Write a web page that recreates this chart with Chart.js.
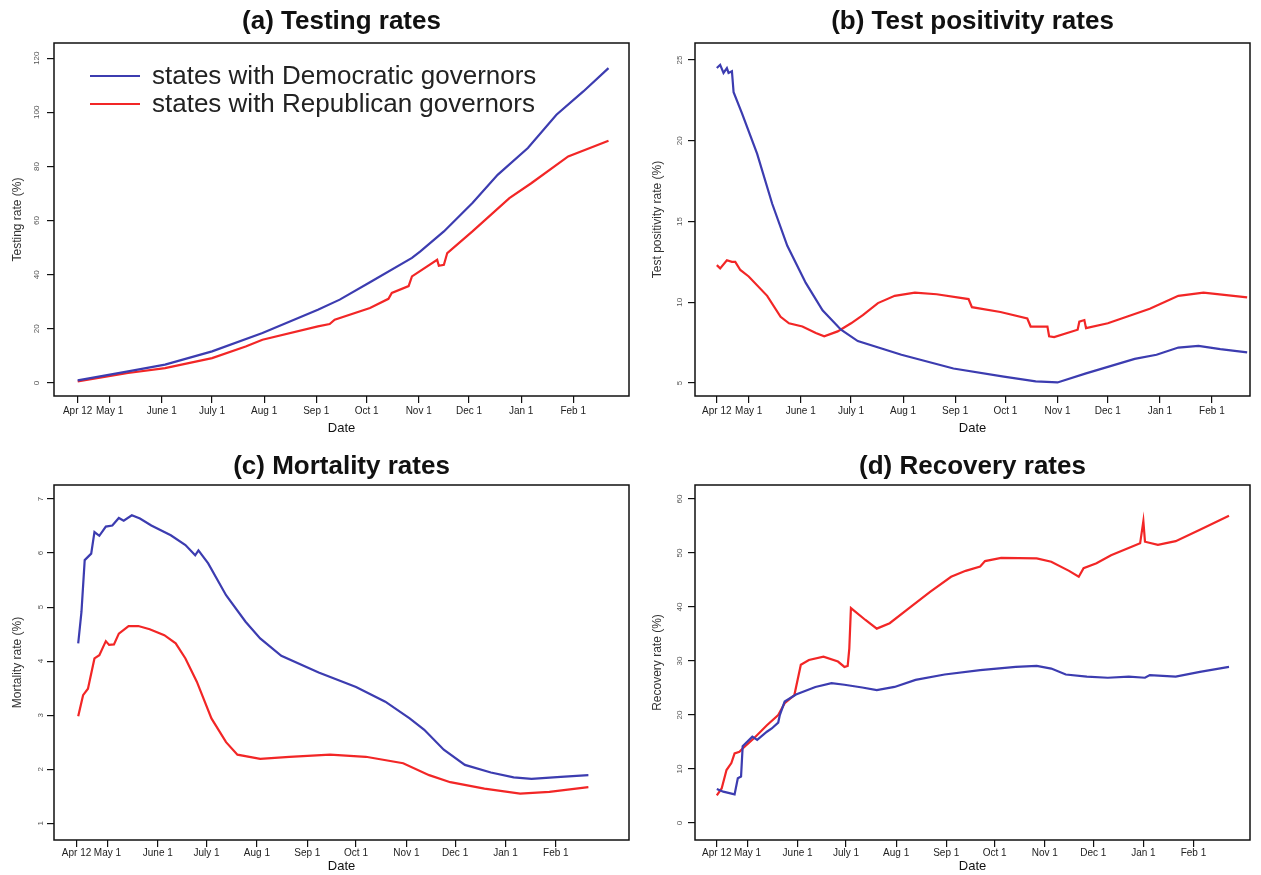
<!DOCTYPE html>
<html>
<head>
<meta charset="utf-8">
<title>Testing, positivity, mortality and recovery rates</title>
<script src="https://cdn.jsdelivr.net/npm/chart.js@4.4.1/dist/chart.umd.min.js"></script>
<style>
  html, body { margin: 0; padding: 0; background: #fff; }
  #wrap { position: relative; width: 1261px; height: 875px; overflow: hidden; }
  #wrap canvas { position: absolute; }
</style>
</head>
<body>
<div id="wrap">
  <canvas id="chartA" width="640" height="440" style="left:0;top:0"></canvas>
  <canvas id="chartB" width="621" height="440" style="left:640px;top:0"></canvas>
  <canvas id="chartC" width="640" height="435" style="left:0;top:440px"></canvas>
  <canvas id="chartD" width="621" height="435" style="left:640px;top:440px"></canvas>
</div>
<script>
// 日期刻度（自4月12日起的天数）
const dateTickDays = [0, 19, 50, 80, 111, 142, 172, 203, 233, 264, 295];
const dateTickLabels = ['Apr 12', 'May 1', 'June 1', 'July 1', 'Aug 1', 'Sep 1', 'Oct 1', 'Nov 1', 'Dec 1', 'Jan 1', 'Feb 1'];
const seriesLabels = ['states with Democratic governors', 'states with Republican governors'];

// (a) 检测率
const testingTicks = [0, 20, 40, 60, 80, 100, 120];
const testingDemDays = [0, 30, 52, 80, 110, 143, 156, 174, 199, 204, 218, 235, 250, 268, 285, 301, 316];
const testingDemVals = [1.0, 4.3, 6.8, 11.7, 18.5, 27.1, 30.8, 37.2, 46.2, 48.6, 56.0, 66.5, 76.9, 86.8, 99.1, 107.7, 116.3];
const testingRepDays = [0, 30, 52, 80, 100, 110, 143, 150, 153, 174, 185, 187, 197, 199, 214, 215, 218, 220, 235, 257, 270, 292, 316];
const testingRepVals = [0.6, 3.7, 5.5, 9.2, 13.5, 16.0, 20.9, 21.8, 23.4, 27.7, 31.1, 33.3, 35.8, 39.4, 45.5, 43.3, 43.7, 48.0, 56.0, 68.3, 73.8, 83.7, 89.5];

// (b) 阳性率
const positivityTicks = [5, 10, 15, 20, 25];
const positivityDemDays = [0, 2, 4, 6, 7, 9, 10, 15, 24, 33, 42, 53, 63, 74, 84, 110, 141, 171, 190, 203, 220, 249, 262, 275, 287, 300, 316];
const positivityDemVals = [24.5, 24.7, 24.2, 24.5, 24.2, 24.3, 23.0, 21.7, 19.2, 16.1, 13.5, 11.2, 9.5, 8.3, 7.6, 6.75, 5.9, 5.4, 5.1, 5.04, 5.6, 6.5, 6.75, 7.2, 7.3, 7.1, 6.9];
const positivityRepDays = [0, 2, 6, 9, 11, 14, 19, 30, 38, 43, 51, 59, 64, 72, 80, 87, 96, 106, 118, 131, 150, 152, 169, 185, 187, 197, 198, 201, 215, 216, 219, 220, 233, 258, 275, 290, 316];
const positivityRepVals = [12.3, 12.1, 12.6, 12.5, 12.5, 12.0, 11.6, 10.4, 9.1, 8.7, 8.5, 8.1, 7.9, 8.2, 8.7, 9.2, 9.95, 10.4, 10.6, 10.5, 10.2, 9.7, 9.4, 9.0, 8.5, 8.5, 7.9, 7.85, 8.3, 8.8, 8.9, 8.4, 8.7, 9.6, 10.4, 10.6, 10.3];

// (c) 死亡率
const mortalityTicks = [1, 2, 3, 4, 5, 6, 7];
const mortalityDemDays = [1, 3, 5, 9, 11, 14, 18, 22, 26, 29, 34, 39, 46, 58, 67, 73, 75, 81, 92, 104, 113, 126, 149, 172, 190, 205, 214, 226, 239, 255, 269, 280, 298, 315];
const mortalityDemVals = [4.33, 4.91, 5.87, 5.99, 6.39, 6.32, 6.49, 6.51, 6.65, 6.6, 6.70, 6.64, 6.51, 6.33, 6.15, 5.96, 6.05, 5.81, 5.22, 4.73, 4.42, 4.10, 3.79, 3.52, 3.25, 2.94, 2.73, 2.36, 2.08, 1.94, 1.85, 1.82, 1.86, 1.89];
const mortalityRepDays = [1, 4, 7, 11, 14, 18, 20, 23, 26, 32, 38, 45, 54, 61, 67, 74, 83, 92, 99, 113, 131, 156, 178, 201, 217, 230, 251, 273, 291, 315];
const mortalityRepVals = [2.98, 3.37, 3.49, 4.05, 4.11, 4.37, 4.30, 4.31, 4.51, 4.65, 4.65, 4.59, 4.48, 4.33, 4.05, 3.62, 2.94, 2.50, 2.27, 2.19, 2.23, 2.27, 2.23, 2.11, 1.89, 1.76, 1.64, 1.55, 1.58, 1.67];

// (d) 康复率
const recoveryTicks = [0, 10, 20, 30, 40, 50, 60];
const recoveryDemDays = [0, 4, 11, 13, 15, 16, 22, 25, 31, 34, 38, 39, 42, 49, 61, 71, 79, 90, 99, 110, 123, 141, 163, 185, 198, 207, 216, 229, 242, 255, 265, 268, 284, 299, 317];
const recoveryDemVals = [6.3, 5.8, 5.3, 8.3, 8.6, 14.2, 16.0, 15.4, 16.9, 17.5, 18.6, 20.0, 22.5, 23.8, 25.2, 25.9, 25.6, 25.1, 24.6, 25.2, 26.5, 27.5, 28.3, 28.9, 29.1, 28.6, 27.5, 27.1, 26.9, 27.1, 26.9, 27.4, 27.1, 28.0, 28.9];
const recoveryRepDays = [0, 3, 6, 9, 11, 14, 16, 23, 31, 38, 42, 48, 52, 57, 66, 75, 79, 81, 82, 83, 92, 99, 107, 119, 132, 145, 154, 163, 166, 176, 198, 207, 218, 224, 227, 235, 244, 262, 264, 265, 273, 284, 299, 317];
const recoveryRepVals = [5.1, 6.4, 9.8, 11.1, 12.9, 13.2, 13.8, 15.7, 18.1, 20.0, 22.2, 23.7, 29.3, 30.2, 30.8, 29.9, 28.9, 29.1, 32.3, 39.8, 37.6, 36.0, 37.0, 39.8, 42.8, 45.6, 46.7, 47.5, 48.5, 49.1, 49.0, 48.4, 46.7, 45.6, 47.2, 48.1, 49.6, 51.8, 55.9, 52.1, 51.5, 52.2, 54.3, 56.9];

const BLUE = '#3c3cb0';
const RED = '#f22626';
const FONT = '"Liberation Sans", Arial, sans-serif';

Chart.defaults.font.family = FONT;

// 边框、标题和图例
const panelDecor = {
    id: 'panelDecor',
    afterDraw(chart, args, opts) {
        const { ctx, chartArea: a } = chart;
        ctx.save();
        ctx.strokeStyle = '#111';
        ctx.lineWidth = 1.5;
        ctx.strokeRect(a.left, a.top, a.right - a.left, a.bottom - a.top);

        ctx.fillStyle = '#111';
        ctx.font = 'bold 26px ' + FONT;
        ctx.textAlign = 'center';
        ctx.textBaseline = 'middle';
        ctx.fillText(opts.title, (a.left + a.right) / 2, opts.titleY);

        if (opts.legend) {
            ctx.font = '26px ' + FONT;
            ctx.textAlign = 'left';
            chart.data.datasets.forEach((ds, i) => {
                const y = 76 + i * 28;
                ctx.strokeStyle = ds.borderColor;
                ctx.lineWidth = 2;
                ctx.beginPath();
                ctx.moveTo(90, y);
                ctx.lineTo(140, y);
                ctx.stroke();
                ctx.fillStyle = '#222';
                ctx.fillText(ds.label, 152, y + 1);
            });
        }
        ctx.restore();
    }
};

function toPoints(days, vals) {
    return days.map((d, i) => ({ x: d, y: vals[i] }));
}

function makePanel(id, p) {
    const gridOpts = { drawOnChartArea: false, drawTicks: true, tickLength: 7, color: '#111', lineWidth: 1.2 };
    return new Chart(document.getElementById(id), {
        type: 'line',
        data: {
            datasets: [
                { label: seriesLabels[0], data: toPoints(p.demDays, p.demVals), borderColor: BLUE, borderWidth: 2.2, pointRadius: 0, tension: 0, fill: false },
                { label: seriesLabels[1], data: toPoints(p.repDays, p.repVals), borderColor: RED, borderWidth: 2.2, pointRadius: 0, tension: 0, fill: false }
            ]
        },
        options: {
            responsive: false,
            animation: false,
            devicePixelRatio: 1,
            layout: { padding: { top: p.top, right: 11, bottom: 0, left: 0 } },
            plugins: {
                legend: { display: false },
                tooltip: { enabled: false },
                panelDecor: { title: p.title, titleY: p.titleY, legend: p.legend }
            },
            scales: {
                x: {
                    type: 'linear',
                    min: p.xMin,
                    max: p.xMax,
                    afterBuildTicks: s => { s.ticks = dateTickDays.map(v => ({ value: v })); },
                    afterFit: s => { s.height = p.xAxisH; },
                    grid: gridOpts,
                    border: { display: false },
                    ticks: {
                        autoSkip: false, maxRotation: 0, minRotation: 0, padding: p.tickPad,
                        color: '#222', font: { size: 10 },
                        callback: (v, i) => dateTickLabels[i]
                    },
                    title: { display: true, text: 'Date', color: '#111', font: { size: 13 }, padding: { top: 0, bottom: p.dateBottom } }
                },
                y: {
                    type: 'linear',
                    min: p.yMin,
                    max: p.yMax,
                    afterBuildTicks: s => { s.ticks = p.yTicks.map(v => ({ value: v })); },
                    afterFit: s => { s.width = p.yAxisW; },
                    grid: gridOpts,
                    border: { display: false },
                    ticks: { minRotation: 90, maxRotation: 90, crossAlign: 'center', padding: 4, color: '#555', font: { size: 8 } },
                    title: { display: true, text: p.yTitle, color: '#333', font: { size: 12 }, padding: { top: 10, bottom: 0 } }
                }
            }
        },
        plugins: [panelDecor]
    });
}

document.addEventListener('DOMContentLoaded', function() {
    makePanel('chartA', {
        title: '(a) Testing rates', titleY: 22, legend: true, top: 43, xAxisH: 44, tickPad: 2, dateBottom: 4, yAxisW: 54,
        xMin: -14.1, xMax: 328.2, yMin: -4.8, yMax: 125.6, yTicks: testingTicks, yTitle: 'Testing rate (%)',
        demDays: testingDemDays, demVals: testingDemVals, repDays: testingRepDays, repVals: testingRepVals
    });
    makePanel('chartB', {
        title: '(b) Test positivity rates', titleY: 22, legend: false, top: 43, xAxisH: 44, tickPad: 2, dateBottom: 4, yAxisW: 55,
        xMin: -13, xMax: 317.7, yMin: 4.2, yMax: 26.05, yTicks: positivityTicks, yTitle: 'Test positivity rate (%)',
        demDays: positivityDemDays, demVals: positivityDemVals, repDays: positivityRepDays, repVals: positivityRepVals
    });
    makePanel('chartC', {
        title: '(c) Mortality rates', titleY: 27, legend: false, top: 45, xAxisH: 35, tickPad: 0, dateBottom: 1, yAxisW: 54,
        xMin: -13.9, xMax: 340, yMin: 0.69, yMax: 7.26, yTicks: mortalityTicks, yTitle: 'Mortality rate (%)',
        demDays: mortalityDemDays, demVals: mortalityDemVals, repDays: mortalityRepDays, repVals: mortalityRepVals
    });
    makePanel('chartD', {
        title: '(d) Recovery rates', titleY: 27, legend: false, top: 45, xAxisH: 35, tickPad: 0, dateBottom: 1, yAxisW: 55,
        xMin: -13.5, xMax: 330, yMin: -3.15, yMax: 62.6, yTicks: recoveryTicks, yTitle: 'Recovery rate (%)',
        demDays: recoveryDemDays, demVals: recoveryDemVals, repDays: recoveryRepDays, repVals: recoveryRepVals
    });
});
</script>
</body>
</html>
